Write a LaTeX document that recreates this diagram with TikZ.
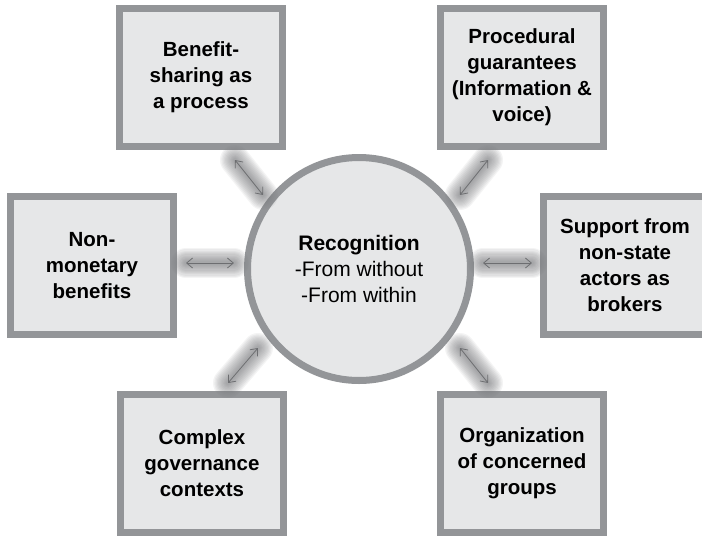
\documentclass[tikz,border=0pt]{standalone}
\usepackage{fontspec}
\setmainfont{Liberation Sans}
\usetikzlibrary{arrows.meta}
\definecolor{boxfill}{HTML}{E6E7E8}
\definecolor{boxline}{HTML}{939598}
\definecolor{arrowcol}{HTML}{6D6E71}
\definecolor{glowcol}{HTML}{7A7B7E}
\tikzset{
  topic/.style={draw=boxline, line width=7pt, fill=boxfill, minimum width=163pt,
    minimum height=138pt, inner sep=0pt, align=center,
    font=\bfseries\fontsize{20.5}{26}\selectfont},
  hub/.style={circle, draw=boxline, line width=7pt, fill=boxfill, minimum size=223pt,
    inner sep=0pt, align=center, font=\fontsize{21}{26}\selectfont},
  glowA/.style={glowcol, line cap=round, opacity=0.085, line width=#1},
  link/.style={arrowcol, line width=0.8pt,
    {Straight Barb[length=6pt,width=10pt]}-{Straight Barb[length=6pt,width=10pt]}}
}
\newcommand{\glowlink}[2]{%
  \foreach \w in {30pt,27.5pt,25pt,22.5pt,20pt,17.5pt,15pt,12.5pt,10pt,8pt,6pt,4pt}{\draw[glowA=\w] (#1) -- (#2);}
  \draw[link] (#1) -- (#2);}
\begin{document}
\begin{tikzpicture}[x=1pt,y=-1pt]
\useasboundingbox (0,0) rectangle (702,536);
\clip (0,0) rectangle (702,536);
\node[hub] (hub) at (359,269) {\textbf{Recognition}\\-From without\\-From within};
\node[topic] (tl) at (201,77.5) {Benefit-\\sharing as\\a process};
\node[topic] (tr) at (522,77.5) {Procedural\\guarantees\\(Information \&\\voice)};
\node[topic] (l) at (92,265.5) {Non-\\monetary\\benefits};
\node[topic] (r) at (625,265.5) {Support from\\non-state\\actors as\\brokers};
\node[topic] (bl) at (202,463) {Complex\\governance\\contexts};
\node[topic] (br) at (522,463) {Organization\\of concerned\\groups};
\coordinate (tlA) at (235,160); \coordinate (tlB) at (263,195);
\coordinate (trA) at (488,160); \coordinate (trB) at (460,195);
\coordinate (lA) at (186,263);  \coordinate (lB) at (234,263);
\coordinate (rA) at (483,263);  \coordinate (rB) at (532,263);
\coordinate (blA) at (258,348); \coordinate (blB) at (228,383);
\coordinate (brA) at (460,348); \coordinate (brB) at (488,383);
\glowlink{tlA}{tlB}
\glowlink{trA}{trB}
\glowlink{lA}{lB}
\glowlink{rA}{rB}
\glowlink{blA}{blB}
\glowlink{brA}{brB}
\end{tikzpicture}
\end{document}
